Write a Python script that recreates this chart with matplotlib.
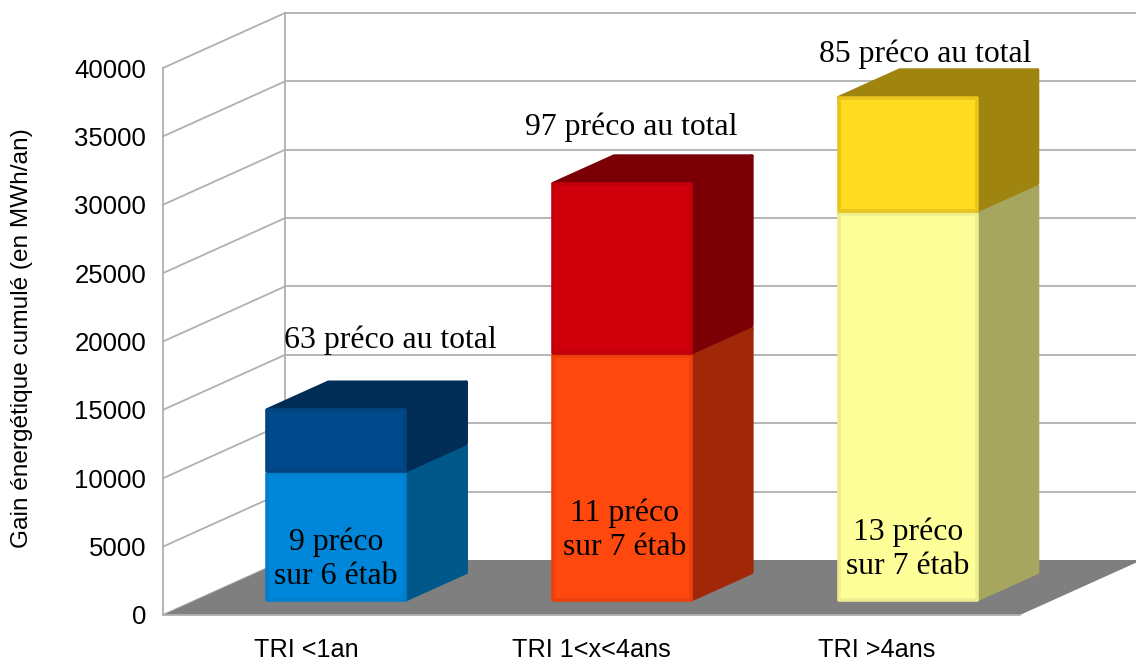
#!/usr/bin/env python3

import matplotlib
matplotlib.use('Agg')
import matplotlib.pyplot as plt
from matplotlib.patches import Polygon

categories = ['TRI <1an', 'TRI 1<x<4ans', 'TRI >4ans']
lower_values = [9430, 18060, 28450]
upper_values = [4670, 12580, 8480]
total_labels = ['63 préco au total', '97 préco au total', '85 préco au total']
inner_labels = ['9 préco\nsur 6 étab', '11 préco\nsur 7 étab', '13 préco\nsur 7 étab']
yticks = list(range(0, 40001, 5000))

W, H = 1136, 661
GREY = '#b0b0b0'

# size of the fake 3d box, x in categories and y in axis units
DX = 0.427
DY = 4022
BAR_W = 0.482

# front, edge, side, top
lower_colors = [('#0086d8', '#007fcc', '#00578a', '#00578a'),
                ('#ff480e', '#ec400c', '#a02808', '#a02808'),
                ('#ffff99', '#eeee90', '#a6a660', '#a6a660')]
upper_colors = [('#004a8c', '#004480', '#002c56', '#002c56'),
                ('#cf000c', '#c0000a', '#7a0006', '#7a0006'),
                ('#ffdc20', '#e8c41c', '#a08410', '#a08410')]

total_pos = [(0.795, 20100), (1.638, 35700), (2.667, 41000)]
inner_pos = [(0.606, 4095), (1.617, 6215), (2.608, 4826)]


def box(ax, xc, y0, y1, colors, z):
    # depth of the bars goes from 1/4 to 3/4 of the floor
    front, edge, side, top = colors
    x0 = xc - BAR_W / 2 + 0.25 * DX
    x1 = xc + BAR_W / 2 + 0.25 * DX
    y0 = y0 + 0.25 * DY + 100
    y1 = y1 + 0.25 * DY - 100
    dx = 0.5 * DX
    dy = 0.5 * DY
    faces = [
        ([(x1, y0), (x1 + dx, y0 + dy), (x1 + dx, y1 + dy), (x1, y1)], side, side),
        ([(x0, y1), (x1, y1), (x1 + dx, y1 + dy), (x0 + dx, y1 + dy)], top, top),
        ([(x0, y0), (x1, y0), (x1, y1), (x0, y1)], front, edge),
    ]
    for pts, fc, ec in faces:
        ax.add_patch(Polygon(pts, closed=True, facecolor=fc, edgecolor=ec, lw=2.6,
                             joinstyle='round', clip_on=False, zorder=z))


fig = plt.figure(figsize=(W / 100, H / 100), dpi=100)
ax = fig.add_axes([163 / W, (H - 615) / H, 857 / W, 547 / H])
ax.set_xlim(0, 3)
ax.set_ylim(0, 40000)
ax.patch.set_visible(False)

for s in ['top', 'right', 'bottom']:
    ax.spines[s].set_visible(False)
ax.spines['left'].set_color(GREY)
ax.spines['left'].set_linewidth(1.3)

# walls
x_end = 3 + DX
for v in yticks:
    ax.plot([0, DX], [v, v + DY], color=GREY, lw=1.3, clip_on=False, zorder=1)
    if v > 0:
        ax.plot([DX, x_end], [v + DY, v + DY], color=GREY, lw=1.3, clip_on=False, zorder=1)
ax.plot([DX, DX], [DY, 40000 + DY], color=GREY, lw=1.3, clip_on=False, zorder=1)

# floor
ax.add_patch(Polygon([(0, 0), (3, 0), (x_end, DY), (DX, DY)], closed=True,
                     facecolor='#7f7f7f', edgecolor='none', clip_on=False, zorder=2))
ax.plot([0, 3], [0, 0], color=GREY, lw=1.3, clip_on=False, zorder=2)

for i in range(len(categories)):
    xc = i + 0.5
    box(ax, xc, 0, lower_values[i], lower_colors[i], 3 + i)
    box(ax, xc, lower_values[i], lower_values[i] + upper_values[i], upper_colors[i], 3.5 + i)
    ax.text(total_pos[i][0], total_pos[i][1], total_labels[i], family='Liberation Serif',
            fontsize=22.9, color='black', ha='center', va='center', zorder=10, clip_on=False)
    ax.text(inner_pos[i][0], inner_pos[i][1], inner_labels[i], family='Liberation Serif',
            fontsize=22.9, color='black', ha='center', va='center', zorder=10,
            linespacing=1.25, clip_on=False)

ax.set_yticks(yticks)
ax.set_yticklabels([str(v) for v in yticks], family='Liberation Sans', fontsize=18.5)
ax.set_xticks([i + 0.5 for i in range(len(categories))])
ax.set_xticklabels(categories, family='Liberation Sans', fontsize=18.2)
ax.tick_params(axis='y', length=0, pad=12)
ax.tick_params(axis='x', length=0, pad=16.5)

fig.text(22 / W, 1 - 338 / H, 'Gain énergétique cumulé (en MWh/an)', family='Liberation Sans',
         fontsize=17.6, rotation=90, ha='center', va='center')

fig.savefig('out.png', dpi=100)
